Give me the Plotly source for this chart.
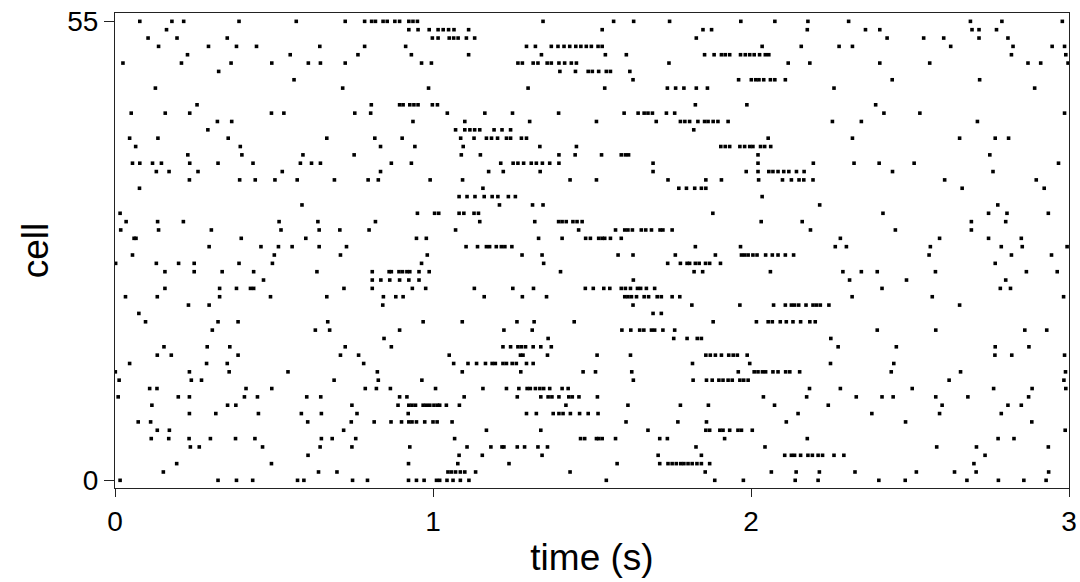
import plotly.graph_objects as go

# Spike times (s) for each cell
cell_55 = [0.078, 0.179, 0.216, 0.390, 0.570, 0.724, 0.785, 0.807, 0.819, 0.843, 0.856, 0.880, 0.895, 0.924, 0.937, 0.951, 1.346, 1.568, 1.631, 1.744, 1.968, 2.075, 2.179, 2.307, 2.690, 2.789, 2.979]
cell_54 = [0.162, 0.924, 0.953, 0.988, 1.016, 1.032, 1.049, 1.066, 1.112, 1.532, 1.849, 1.876, 2.177, 2.360, 2.405, 2.695, 2.717, 2.772]
cell_53 = [0.104, 0.195, 0.353, 0.998, 1.016, 1.051, 1.065, 1.079, 1.105, 1.131, 1.828, 2.428, 2.543, 2.606, 2.717, 2.808]
cell_52 = [0.137, 0.294, 0.382, 0.445, 0.644, 0.785, 0.914, 1.294, 1.322, 1.372, 1.393, 1.412, 1.430, 1.449, 1.465, 1.482, 1.498, 1.519, 1.532, 2.035, 2.158, 2.277, 2.319, 2.628, 2.824, 2.947, 2.986]
cell_51 = [0.228, 0.551, 0.764, 0.932, 1.112, 1.341, 1.542, 1.608, 1.854, 1.884, 1.907, 1.919, 1.933, 1.967, 1.982, 1.996, 2.010, 2.027, 2.045, 2.056, 2.819, 2.990]
cell_50 = [0.025, 0.209, 0.365, 0.493, 0.608, 0.646, 0.724, 0.964, 0.995, 1.267, 1.281, 1.315, 1.330, 1.359, 1.372, 1.396, 1.414, 1.435, 1.451, 1.742, 2.117, 2.185, 2.405, 2.562, 2.871, 2.911, 2.997]
cell_49 = [0.326, 1.399, 1.448, 1.488, 1.501, 1.521, 1.545, 1.558, 1.619]
cell_48 = [0.563, 1.629, 1.961, 2.001, 2.015, 2.025, 2.040, 2.061, 2.075, 2.108, 2.444, 2.719]
cell_47 = [0.127, 0.716, 0.986, 1.299, 1.540, 1.737, 1.763, 1.789, 1.828, 1.863, 2.261, 2.892]
cell_46 = []
cell_45 = [0.258, 0.806, 0.895, 0.906, 0.927, 0.940, 0.953, 0.998, 1.014, 1.825, 1.987, 2.392]
cell_44 = [0.051, 0.158, 0.235, 0.492, 0.531, 0.754, 0.804, 1.045, 1.163, 1.250, 1.395, 1.601, 1.645, 1.664, 1.676, 1.690, 1.734, 1.760, 2.418, 2.531, 2.986]
cell_43 = [0.322, 0.367, 0.937, 1.100, 1.304, 1.514, 1.702, 1.778, 1.792, 1.807, 1.833, 1.854, 1.865, 1.881, 1.896, 1.928, 2.256, 2.347, 2.712]
cell_42 = [0.292, 1.071, 1.100, 1.116, 1.131, 1.147, 1.192, 1.217, 1.244, 1.820]
cell_41 = [0.046, 0.135, 0.356, 0.666, 0.817, 0.903, 1.087, 1.129, 1.168, 1.184, 1.203, 1.231, 1.244, 1.278, 1.294, 2.054, 2.319, 2.656, 2.768, 2.810]
cell_40 = [0.065, 0.394, 0.835, 0.943, 1.095, 1.336, 1.451, 1.905, 1.919, 1.933, 1.965, 1.980, 1.996, 2.006, 2.030, 2.043, 2.062]
cell_39 = [0.229, 0.399, 0.591, 0.752, 1.089, 1.149, 1.396, 1.447, 1.530, 1.592, 1.605, 1.615, 2.022, 2.751]
cell_38 = [0.055, 0.078, 0.118, 0.146, 0.235, 0.324, 0.434, 0.583, 0.618, 0.646, 0.869, 0.932, 1.213, 1.252, 1.267, 1.285, 1.309, 1.325, 1.344, 1.367, 1.396, 1.692, 2.022, 2.196, 2.324, 2.403, 2.513, 2.967]
cell_37 = [0.130, 0.170, 0.261, 0.526, 0.835, 1.175, 1.221, 1.337, 1.692, 1.985, 2.022, 2.056, 2.069, 2.085, 2.103, 2.119, 2.143, 2.167, 2.445, 2.761]
cell_36 = [0.234, 0.392, 0.441, 0.503, 0.573, 0.690, 0.796, 0.828, 0.991, 1.093, 1.431, 1.514, 1.739, 1.858, 1.907, 2.024, 2.099, 2.127, 2.151, 2.166, 2.195, 2.609, 2.897]
cell_35 = [0.077, 1.157, 1.773, 1.797, 1.823, 1.844, 1.858, 2.664, 2.922]
cell_34 = [1.082, 1.107, 1.132, 1.161, 1.186, 1.204, 1.237, 1.259, 2.035]
cell_33 = [0.588, 1.209, 1.313, 1.346, 2.216, 2.776]
cell_32 = [0.016, 0.951, 1.005, 1.018, 1.082, 1.097, 1.129, 1.143, 1.880, 2.415, 2.747, 2.805, 2.935]
cell_31 = [0.035, 0.134, 0.215, 0.516, 0.638, 0.819, 1.147, 1.320, 1.395, 1.406, 1.419, 1.440, 1.453, 1.469, 2.032, 2.161, 2.693, 2.801]
cell_30 = [0.018, 0.137, 0.303, 0.522, 0.642, 0.707, 0.799, 1.071, 1.458, 1.574, 1.603, 1.613, 1.627, 1.655, 1.669, 1.687, 1.714, 1.723, 1.752, 2.187, 2.454, 2.693]
cell_29 = [0.060, 0.066, 0.397, 0.600, 0.948, 0.979, 1.332, 1.406, 1.480, 1.495, 1.521, 1.532, 1.540, 1.558, 1.592, 2.281, 2.593, 2.747, 2.850]
cell_28 = [0.296, 0.459, 0.514, 0.557, 0.642, 0.728, 1.104, 1.140, 1.168, 1.178, 1.199, 1.215, 1.226, 1.248, 1.825, 1.967, 2.265, 2.300, 2.564, 2.787, 2.853, 2.994]
cell_27 = [0.055, 0.501, 0.709, 0.982, 1.280, 1.343, 1.582, 1.629, 1.762, 1.888, 1.970, 1.980, 1.991, 2.006, 2.019, 2.046, 2.067, 2.085, 2.108, 2.134, 2.560, 2.819, 2.945]
cell_26 = [0.002, 0.130, 0.200, 0.249, 0.390, 0.495, 0.964, 1.348, 1.738, 1.778, 1.799, 1.807, 1.825, 1.837, 1.857, 1.870, 1.904, 2.768]
cell_25 = [0.157, 0.249, 0.337, 0.436, 0.635, 0.809, 0.862, 0.869, 0.893, 0.904, 0.918, 0.927, 0.956, 0.988, 1.401, 1.821, 1.848, 2.061, 2.289, 2.347, 2.397, 2.580, 2.866, 2.963]
cell_24 = [0.467, 0.809, 0.836, 0.864, 0.895, 0.924, 0.956, 1.630, 2.310, 2.489, 2.801]
cell_23 = [0.157, 0.329, 0.382, 0.426, 0.436, 0.720, 0.809, 0.935, 0.977, 1.130, 1.251, 1.316, 1.479, 1.504, 1.537, 1.556, 1.592, 1.605, 1.621, 1.643, 1.653, 1.671, 1.697, 2.412, 2.784, 2.816]
cell_22 = [0.033, 0.133, 0.329, 0.489, 0.666, 0.844, 0.883, 0.906, 1.161, 1.281, 1.357, 1.603, 1.613, 1.624, 1.640, 1.664, 1.678, 1.705, 1.718, 1.752, 1.776, 2.318, 2.570, 2.983]
cell_21 = [0.231, 0.296, 0.842, 1.629, 1.814, 1.965, 2.071, 2.108, 2.127, 2.137, 2.150, 2.173, 2.195, 2.206, 2.218, 2.245, 2.656]
cell_20 = [0.075, 1.692, 1.718]
cell_19 = [0.096, 0.324, 0.387, 0.669, 0.969, 1.092, 1.264, 1.318, 1.444, 1.881, 2.017, 2.054, 2.067, 2.092, 2.111, 2.132, 2.156, 2.185, 2.202]
cell_18 = [0.306, 0.630, 0.675, 0.895, 1.223, 1.312, 1.594, 1.622, 1.650, 1.663, 1.687, 1.697, 1.723, 1.760, 2.397, 2.581, 2.861, 2.930]
cell_17 = [0.846, 1.362, 1.757, 1.799, 1.831, 1.844, 2.251]
cell_16 = [0.154, 0.290, 0.361, 0.724, 0.869, 1.220, 1.244, 1.267, 1.278, 1.291, 1.315, 1.339, 1.372, 2.274, 2.457, 2.768, 2.874]
cell_15 = [0.133, 0.177, 0.387, 0.709, 0.766, 1.051, 1.275, 1.283, 1.360, 1.516, 1.621, 1.858, 1.872, 1.888, 1.907, 1.930, 1.944, 1.957, 1.988, 2.767, 2.820, 2.986]
cell_14 = [0.046, 0.288, 0.353, 0.782, 1.065, 1.110, 1.137, 1.165, 1.186, 1.196, 1.220, 1.231, 1.249, 1.262, 1.294, 1.315, 1.816, 1.996, 2.250, 2.449]
cell_13 = [0.001, 0.234, 0.359, 0.544, 0.825, 1.092, 1.276, 1.472, 1.511, 1.625, 1.960, 2.010, 2.022, 2.036, 2.046, 2.069, 2.085, 2.109, 2.122, 2.153, 2.441, 2.659, 2.989]
cell_12 = [0.013, 0.240, 0.272, 0.689, 0.828, 0.965, 1.630, 1.818, 1.860, 1.878, 1.899, 1.912, 1.928, 1.941, 1.965, 1.977, 1.991, 2.623, 2.984]
cell_11 = [0.109, 0.132, 0.412, 0.493, 0.787, 0.822, 0.866, 1.008, 1.157, 1.231, 1.270, 1.296, 1.306, 1.322, 1.336, 1.348, 1.367, 1.406, 1.425, 2.184, 2.281, 2.507, 2.763, 2.884, 2.990]
cell_10 = [0.010, 0.199, 0.234, 0.407, 0.448, 0.603, 0.647, 0.895, 0.918, 1.098, 1.265, 1.339, 1.362, 1.374, 1.396, 1.427, 1.438, 1.459, 1.517, 2.039, 2.175, 2.331, 2.412, 2.447, 2.581, 2.682, 2.873]
cell_09 = [0.116, 0.354, 0.380, 0.745, 0.890, 0.924, 0.934, 0.945, 0.969, 0.979, 0.990, 1.003, 1.014, 1.021, 1.042, 1.083, 1.418, 1.613, 1.778, 1.866, 2.074, 2.243, 2.601, 2.808, 2.850]
cell_08 = [0.234, 0.317, 0.451, 0.586, 0.649, 0.761, 0.922, 1.294, 1.325, 1.378, 1.396, 1.409, 1.432, 1.461, 1.488, 1.519, 2.148, 2.380, 2.593, 2.787]
cell_07 = [0.073, 0.112, 0.606, 0.743, 0.815, 0.868, 0.901, 0.924, 0.934, 0.948, 0.974, 1.000, 1.013, 1.060, 1.607, 1.770, 1.860, 2.111, 2.486, 2.883]
cell_06 = [0.133, 0.171, 0.719, 1.168, 1.339, 1.676, 1.858, 1.870, 1.902, 1.912, 1.933, 1.959, 1.970, 2.004, 2.988]
cell_05 = [0.114, 0.169, 0.233, 0.300, 0.379, 0.440, 0.649, 0.683, 0.757, 1.068, 1.464, 1.477, 1.514, 1.521, 1.532, 1.574, 1.713, 1.737, 1.917, 2.177, 2.777, 2.827]
cell_04 = [0.237, 0.265, 0.464, 0.645, 0.745, 0.927, 1.107, 1.182, 1.217, 1.223, 1.265, 1.288, 1.330, 1.360, 1.827, 2.044, 2.584, 2.709, 2.935]
cell_03 = [0.607, 1.082, 1.155, 1.343, 1.708, 1.844, 2.106, 2.127, 2.137, 2.156, 2.179, 2.193, 2.211, 2.225, 2.261, 2.292, 2.736]
cell_02 = [0.194, 0.492, 0.923, 1.078, 1.239, 1.579, 1.713, 1.739, 1.752, 1.765, 1.779, 1.789, 1.802, 1.815, 1.830, 1.844, 1.870, 2.701]
cell_01 = [0.152, 0.640, 0.698, 1.047, 1.058, 1.071, 1.086, 1.100, 1.134, 1.431, 1.856, 2.064, 2.142, 2.215, 2.327, 2.520, 2.640, 2.708, 2.936]
cell_00 = [0.016, 0.324, 0.382, 0.433, 0.574, 0.594, 0.747, 0.794, 0.923, 0.948, 0.972, 1.011, 1.021, 1.044, 1.063, 1.086, 1.113, 1.545, 1.886, 1.976, 2.139, 2.211, 2.402, 2.485, 2.679, 2.778, 2.858, 2.928]

cells = [cell_00, cell_01, cell_02, cell_03, cell_04, cell_05, cell_06, cell_07, cell_08, cell_09,
         cell_10, cell_11, cell_12, cell_13, cell_14, cell_15, cell_16, cell_17, cell_18, cell_19,
         cell_20, cell_21, cell_22, cell_23, cell_24, cell_25, cell_26, cell_27, cell_28, cell_29,
         cell_30, cell_31, cell_32, cell_33, cell_34, cell_35, cell_36, cell_37, cell_38, cell_39,
         cell_40, cell_41, cell_42, cell_43, cell_44, cell_45, cell_46, cell_47, cell_48, cell_49,
         cell_50, cell_51, cell_52, cell_53, cell_54, cell_55]

x_ticks = [0, 1, 2, 3]
y_ticks = [0, 55]

xs, ys = [], []
for idx, times in enumerate(cells):
    xs.extend(times)
    ys.extend([idx] * len(times))

font_family = "Liberation Sans, Arial, Helvetica, sans-serif"

fig = go.Figure(go.Scatter(
    x=xs, y=ys, mode="markers",
    marker=dict(symbol="square", size=3.6, color="black", line=dict(width=0)),
    hoverinfo="x+y",
))

fig.update_layout(
    width=1080, height=582,
    margin=dict(l=114.5, r=10.5, t=13.3, b=94, autoexpand=False),
    paper_bgcolor="white", plot_bgcolor="white",
    showlegend=False,
    font=dict(family=font_family, color="black"),
)
fig.update_xaxes(
    range=[0, 3], tickvals=x_ticks, ticktext=[str(v) for v in x_ticks],
    automargin=False, ticklabeloverflow="allow",
    showgrid=False, zeroline=False,
    showline=True, linecolor="#222", linewidth=1.2, mirror=True,
    ticks="outside", ticklen=8, tickcolor="#222", tickwidth=1.2,
    tickfont=dict(size=28, family=font_family),
    title=dict(text="time (s)", font=dict(size=37, family=font_family), standoff=8),
)
fig.update_yaxes(
    range=[-0.92, 56.0], tickvals=y_ticks, ticktext=[str(v) for v in y_ticks],
    automargin=False, ticklabeloverflow="allow",
    showgrid=False, zeroline=False,
    showline=True, linecolor="#222", linewidth=1.2, mirror=True,
    ticks="outside", ticklen=10, tickcolor="#222", tickwidth=1.2,
    tickfont=dict(size=28, family=font_family),
    title=dict(text="cell", font=dict(size=37, family=font_family), standoff=7),
)

fig.write_html(
    "out.html",
    config={"displayModeBar": False},
    post_script="document.documentElement.style.margin='0';document.body.style.margin='0';document.body.style.overflow='hidden';",
)
